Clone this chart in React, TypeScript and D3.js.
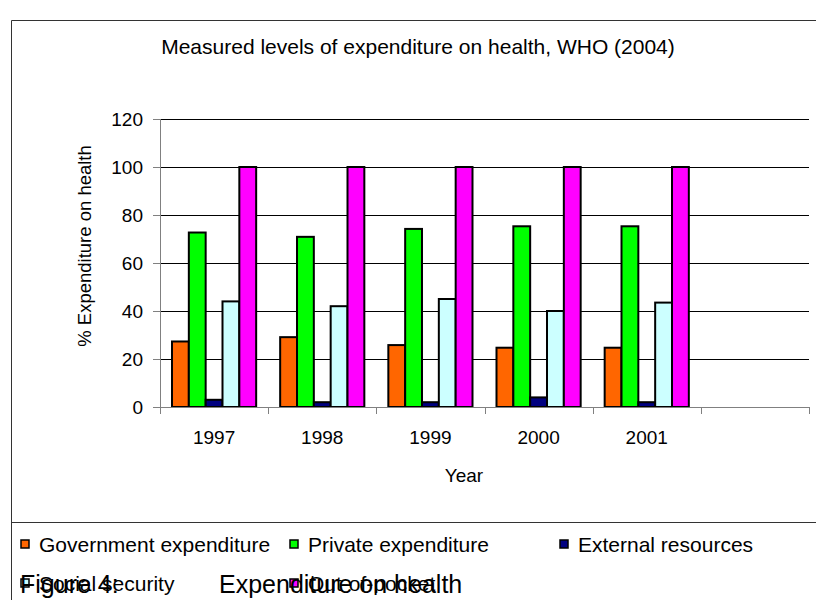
import React from 'react';
import * as d3 from 'd3';

const categories = ['1997', '1998', '1999', '2000', '2001', ''];
const seriesNames = ['Government expenditure', 'Private expenditure', 'External resources', 'Social security', 'Out-of-pocket'];
const seriesColors = ['#FF6600', '#00FF00', '#000080', '#CCFFFF', '#FF00FF'];
const govValues = [27.3, 29.1, 25.8, 24.7, 24.7];
const privValues = [72.7, 70.9, 74.2, 75.3, 75.3];
const extValues = [3.0, 2.0, 2.0, 4.0, 2.0];
const ssValues = [44.0, 42.0, 45.0, 40.0, 43.5];
const oopValues = [100, 100, 100, 100, 100];
const yTicks = [0, 20, 40, 60, 80, 100, 120];

const FONT = '"Liberation Sans", Arial, sans-serif';

export default function App() {
  const series = [govValues, privValues, extValues, ssValues, oopValues];
  const left = 160, right = 809, top = 119, bottom = 407;
  const x = d3.scaleBand<string>().domain(categories.map((c, i) => String(i))).range([left, right]).padding(0);
  const bw = x.bandwidth();
  const inner = d3.scaleBand<number>().domain(d3.range(series.length)).range([12, bw - 12]).padding(0);
  const y = d3.scaleLinear().domain([0, 120]).range([bottom, top]);

  const legendPos = [
    { x: 21, y: 545 }, { x: 290, y: 545 }, { x: 560, y: 545 },
    { x: 21, y: 584 }, { x: 290, y: 584 },
  ];

  return (
    <svg width={816} height={600} style={{ position: 'absolute', left: 0, top: 0, background: '#fff' }} fontFamily={FONT}>
      <rect x={0} y={0} width={816} height={600} fill="#fff" />
      {/* frame */}
      <line x1={11.5} y1={20.5} x2={816} y2={20.5} stroke="#333" strokeWidth={1} />
      <line x1={11.5} y1={20.5} x2={11.5} y2={600} stroke="#333" strokeWidth={1} />
      <line x1={11.5} y1={522.5} x2={816} y2={522.5} stroke="#333" strokeWidth={1} />

      <text x={418} y={54} textAnchor="middle" fontSize={21} fill="#000">
        Measured levels of expenditure on health, WHO (2004)
      </text>

      {/* gridlines */}
      {yTicks.filter(t => t > 0).map(t => (
        <line key={t} x1={left} x2={right} y1={Math.round(y(t)) + 0.5} y2={Math.round(y(t)) + 0.5} stroke="#000" strokeWidth={1} />
      ))}
      {/* y axis */}
      <line x1={left + 0.5} x2={left + 0.5} y1={top} y2={bottom} stroke="#808080" strokeWidth={1} />
      {yTicks.map(t => (
        <g key={t}>
          <line x1={left - 7} x2={left} y1={Math.round(y(t)) + 0.5} y2={Math.round(y(t)) + 0.5} stroke="#808080" strokeWidth={1} />
          <text x={143} y={y(t) + 7} textAnchor="end" fontSize={19} fill="#000">{t}</text>
        </g>
      ))}
      <text transform={`translate(91,246) rotate(-90)`} textAnchor="middle" fontSize={18.5} fill="#000">% Expenditure on health</text>

      {/* bars */}
      {categories.map((c, ci) => (
        <g key={ci}>
          {series.map((vals, si) => {
            const v = vals[ci];
            if (v === undefined || v === null) return null;
            const bx = (x(String(ci)) as number) + (inner(si) as number);
            return (
              <rect key={si} x={bx} y={y(v)} width={inner.bandwidth()} height={bottom - y(v)}
                fill={seriesColors[si]} stroke="#000" strokeWidth={2} />
            );
          })}
        </g>
      ))}

      {/* x axis */}
      <line x1={left} x2={right} y1={bottom + 0.5} y2={bottom + 0.5} stroke="#808080" strokeWidth={1} />
      {d3.range(categories.length + 1).map(i => {
        const tx = Math.round(left + i * bw) + 0.5;
        return <line key={i} x1={tx} x2={tx} y1={bottom} y2={bottom + 7} stroke="#808080" strokeWidth={1} />;
      })}
      {categories.map((c, ci) => (
        <text key={ci} x={(x(String(ci)) as number) + bw / 2} y={444} textAnchor="middle" fontSize={19} fill="#000">{c}</text>
      ))}
      <text x={464} y={482} textAnchor="middle" fontSize={19} fill="#000">Year</text>

      {/* legend */}
      {seriesNames.map((n, i) => (
        <g key={n}>
          <rect x={legendPos[i].x} y={legendPos[i].y - 5} width={8} height={8} fill={seriesColors[i]} stroke="#000" strokeWidth={1.5} />
          <text x={legendPos[i].x + 18} y={legendPos[i].y + 7} fontSize={21} fill="#000">{n}</text>
        </g>
      ))}
      <text x={20} y={593} fontSize={25} fill="#000">Figure 4:</text>
      <text x={219} y={593} fontSize={25} fill="#000">Expenditure on health</text>
    </svg>
  );
}
